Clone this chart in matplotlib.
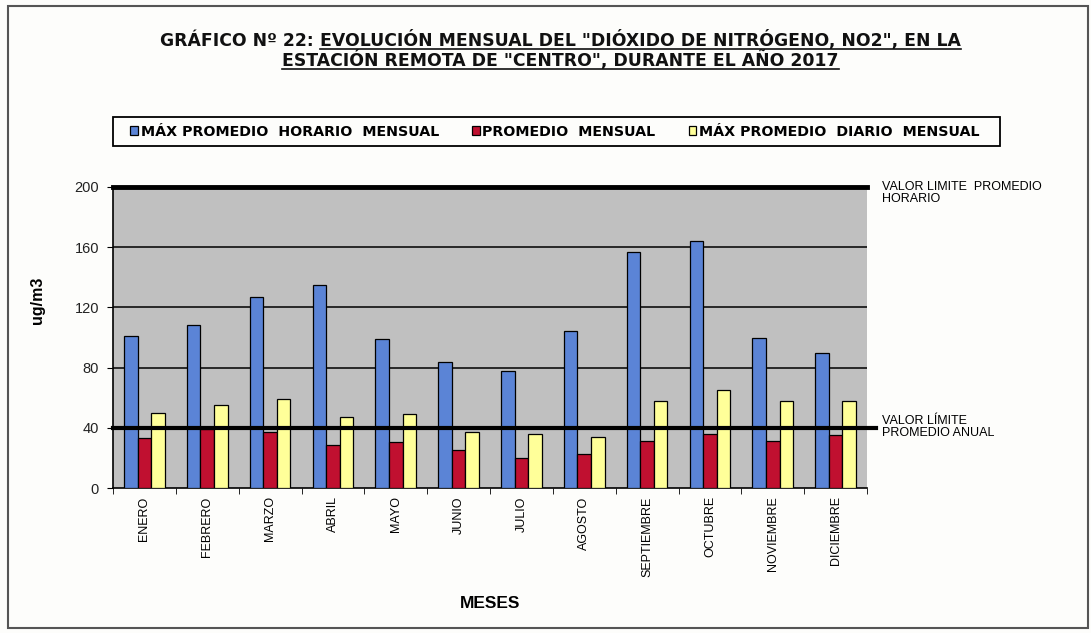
import matplotlib
matplotlib.use("Agg")
import matplotlib.pyplot as plt
import numpy as np
from matplotlib.lines import Line2D
from matplotlib.patches import Rectangle

# data
meses = ["ENERO", "FEBRERO", "MARZO", "ABRIL", "MAYO", "JUNIO", "JULIO",
         "AGOSTO", "SEPTIEMBRE", "OCTUBRE", "NOVIEMBRE", "DICIEMBRE"]
max_horario = [101, 108, 127, 135, 99, 84, 77.5, 104, 157, 164, 100, 90]
promedio = [33, 39, 37, 28.5, 30.5, 25, 20, 22.5, 31, 36, 31, 35]
max_diario = [50, 55, 59, 47, 49, 37, 36, 34, 58, 65, 57.5, 57.5]
limite_horario = 200
limite_anual = 40
yticks = [0, 40, 80, 120, 160, 200]

plt.rcParams['font.family'] = ['Liberation Sans', 'DejaVu Sans']

W, H = 1091, 633
fig = plt.figure(figsize=(W / 100, H / 100), dpi=100)
fig.patch.set_facecolor('#fdfdfb')

# outer frame
fig.add_artist(Rectangle((8 / W, 5 / H), 1080 / W, 622 / H, transform=fig.transFigure,
                         fill=False, edgecolor='#555555', lw=1.5))

ax = fig.add_axes([113 / W, 1 - 488 / H, 754 / W, 301 / H])
ax.set_facecolor('#c0c0c0')

x = np.arange(len(meses))
w = 0.215
b1 = ax.bar(x - w, max_horario, w, color='#5b84d6', edgecolor='black', lw=0.9, zorder=3,
            label='MÁX PROMEDIO  HORARIO  MENSUAL')
b2 = ax.bar(x, promedio, w, color='#c01030', edgecolor='black', lw=0.9, zorder=3,
            label='PROMEDIO  MENSUAL')
b3 = ax.bar(x + w, max_diario, w, color='#ffff99', edgecolor='black', lw=0.9, zorder=3,
            label='MÁX PROMEDIO  DIARIO  MENSUAL')

ax.set_xlim(-0.5, len(meses) - 0.5)
ax.set_ylim(0, 200)
ax.set_yticks(yticks)
ax.set_yticklabels(yticks, fontsize=10.5, color='#222222')
for yv in yticks[1:-1]:
    ax.axhline(yv, color='black', lw=1.1, zorder=1)
ax.axhline(limite_horario, color='black', lw=3.5, zorder=5, clip_on=False)
ax.plot([-0.5, len(meses) - 0.35], [limite_anual, limite_anual], color='black', lw=3,
        zorder=5, clip_on=False)

ax.set_xticks(x)
ax.set_xticklabels(meses, rotation=90, fontsize=9, va='top')
ax.set_xticks(np.arange(-0.5, len(meses)), minor=True)
ax.tick_params(axis='x', which='major', length=0, pad=6)
ax.tick_params(axis='x', which='minor', length=4, direction='out')
ax.tick_params(axis='y', length=4, direction='out', pad=6)
for s in ['top', 'right']:
    ax.spines[s].set_visible(False)
ax.spines['left'].set_linewidth(1.2)
ax.spines['bottom'].set_linewidth(1.2)

ax.set_ylabel('ug/m3', fontsize=11.5, fontweight='bold')
ax.yaxis.set_label_coords(-0.09, 0.625)
ax.set_xlabel('MESES', fontsize=12.5, fontweight='bold', labelpad=14)

ax.text(882 / W, 1 - 181 / H, 'VALOR LIMITE  PROMEDIO\nHORARIO', transform=fig.transFigure,
        fontsize=9, va='top', ha='left', linespacing=1.0)
ax.text(882 / W, 1 - 415 / H, 'VALOR LÍMITE\nPROMEDIO ANUAL', transform=fig.transFigure,
        fontsize=9, va='top', ha='left', linespacing=1.0)

leg = fig.legend(handles=[b1, b2, b3], loc='center left', ncol=3,
                 bbox_to_anchor=(117 / W, 1 - 131.5 / H),
                 frameon=False, handlelength=0.55, handleheight=0.55, handletextpad=0.2,
                 columnspacing=2.3, borderpad=0.3, borderaxespad=0.6,
                 prop={'family': 'DejaVu Sans', 'weight': 'bold', 'size': 10.3})
fig.add_artist(Rectangle((113 / W, 1 - 146 / H), 887 / W, 29 / H, transform=fig.transFigure,
                         fill=False, edgecolor='black', lw=1.3))

# title, partly underlined
tfont = dict(fontsize=12.4, fontweight='bold', color='#111111', va='baseline', ha='left',
             family='DejaVu Sans')
t1 = fig.text(160 / W, 1 - 46 / H, 'GRÁFICO Nº 22: ', **tfont)
fig.canvas.draw()
r = fig.canvas.get_renderer()
bb = t1.get_window_extent(r)
t2 = fig.text(bb.x1 / W, 1 - 46 / H, 'EVOLUCIÓN MENSUAL DEL "DIÓXIDO DE NITRÓGENO, NO2", EN LA', **tfont)
bb2 = t2.get_window_extent(r)
fig.add_artist(Line2D([bb2.x0 / W, bb2.x1 / W], [(H - 49) / H] * 2, color='#111111', lw=1.2))
t3 = fig.text(0, 1 - 66 / H, 'ESTACIÓN REMOTA DE "CENTRO", DURANTE EL AÑO 2017', **tfont)
bb3 = t3.get_window_extent(r)
x3 = (bb.x0 + bb2.x1) / 2 - bb3.width / 2
t3.set_x(x3 / W)
fig.add_artist(Line2D([x3 / W, (x3 + bb3.width) / W], [(H - 69) / H] * 2, color='#111111', lw=1.2))

fig.savefig('out.png', dpi=100, facecolor=fig.get_facecolor())
